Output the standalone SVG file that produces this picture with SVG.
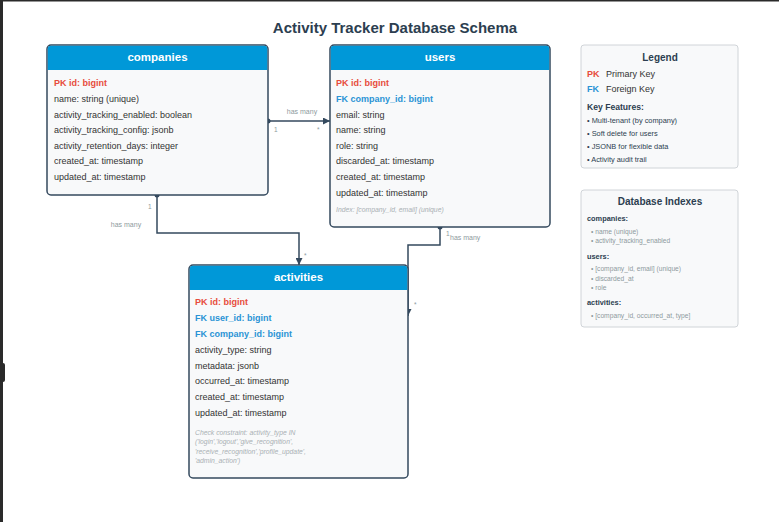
<svg xmlns="http://www.w3.org/2000/svg" width="779" height="522" viewBox="0 0 779 522">
<style>
text{font-family:"Liberation Sans",Arial,sans-serif;}
.title{font-size:15px;font-weight:bold;fill:#2c3e50;text-anchor:middle;}
.box{fill:#f8f9fa;stroke:#34495e;stroke-width:1.5;}
.hdr{fill:#0098d8;}
.htxt{font-size:11.5px;font-weight:bold;fill:#ffffff;text-anchor:middle;}
.row{font-size:9px;fill:#333333;}
.pk{font-size:9px;font-weight:bold;fill:#e74c3c;}
.fk{font-size:9px;font-weight:bold;fill:#2a93d5;}
.note{font-size:6.8px;font-style:italic;fill:#a9b0b4;}
.conn{fill:none;stroke:#34495e;stroke-width:1.5;}
.dot{fill:#34495e;}
.lbl{font-size:7px;fill:#8e9a9e;}
.card{font-size:6.5px;fill:#8e9a9e;}
.pbox{fill:#f8f9fa;stroke:#d0d4d8;stroke-width:1;}
.ptitle{font-size:10px;font-weight:bold;fill:#2c3e50;text-anchor:middle;}
.lk{font-size:9px;font-weight:bold;}
.ltxt{font-size:9px;fill:#333333;}
.sub{font-size:8.6px;font-weight:bold;fill:#2c3e50;}
.bul{font-size:7.4px;fill:#2c3e50;}
.isub{font-size:7.4px;font-weight:bold;fill:#2c3e50;}
.ibul{font-size:6.7px;fill:#8e9a9e;}
</style>
<defs>
<marker id="arr" viewBox="0 0 10 10" refX="10" refY="5" markerWidth="7" markerHeight="7" markerUnits="userSpaceOnUse" orient="auto">
<path d="M0,0 L10,5 L0,10 z" fill="#34495e"/>
</marker>
</defs>
<rect x="0" y="0" width="779" height="522" fill="#ffffff"/>
<rect x="0" y="0" width="779" height="1.5" fill="#2a2a2a"/>
<rect x="0" y="0" width="3" height="522" fill="#2a2a2a"/>
<rect x="0" y="363" width="5" height="19" rx="2" fill="#2a2a2a"/>

<text class="title" x="395" y="33">Activity Tracker Database Schema</text>

<g id="connectors">
<path class="conn" d="M268,121 L330,121" marker-end="url(#arr)"/>
<circle class="dot" cx="268" cy="121" r="2.5"/>
<text class="lbl" x="302" y="114" text-anchor="middle">has many</text>
<text class="card" x="274" y="132">1</text>
<text class="card" x="317" y="132">*</text>

<path class="conn" d="M157,195 L157,233 L299,233 L299,265" marker-end="url(#arr)"/>
<circle class="dot" cx="157" cy="195" r="2.5"/>
<text class="card" x="148" y="209">1</text>
<text class="lbl" x="126" y="227" text-anchor="middle">has many</text>
<text class="card" x="304" y="258">*</text>

<path class="conn" d="M440,227 L440,245 L408,245 L408,316" marker-end="url(#arr)"/>
<circle class="dot" cx="440" cy="227" r="2.5"/>
<text class="card" x="446" y="236">1</text>
<text class="lbl" x="450" y="240">has many</text>
<text class="card" x="414" y="307">*</text>
</g>

<g id="companies">
<rect class="box" x="47" y="45" width="221" height="150" rx="4"/>
<path class="hdr" d="M51,45.75 H264 A3.25,3.25 0 0 1 267.25,49 V70 H47.75 V49 A3.25,3.25 0 0 1 51,45.75 z"/>
<text class="htxt" x="157.5" y="61">companies</text>
<text class="pk" x="54" y="86">PK id: bigint</text>
<text class="row" x="54" y="102">name: string (unique)</text>
<text class="row" x="54" y="118">activity_tracking_enabled: boolean</text>
<text class="row" x="54" y="133">activity_tracking_config: jsonb</text>
<text class="row" x="54" y="149">activity_retention_days: integer</text>
<text class="row" x="54" y="164">created_at: timestamp</text>
<text class="row" x="54" y="180">updated_at: timestamp</text>
</g>

<g id="users">
<rect class="box" x="330" y="45" width="220" height="182" rx="4"/>
<path class="hdr" d="M334,45.75 H546 A3.25,3.25 0 0 1 549.25,49 V70 H330.75 V49 A3.25,3.25 0 0 1 334,45.75 z"/>
<text class="htxt" x="440" y="61">users</text>
<text class="pk" x="336" y="86">PK id: bigint</text>
<text class="fk" x="336" y="102">FK company_id: bigint</text>
<text class="row" x="336" y="118">email: string</text>
<text class="row" x="336" y="133">name: string</text>
<text class="row" x="336" y="149">role: string</text>
<text class="row" x="336" y="164">discarded_at: timestamp</text>
<text class="row" x="336" y="180">created_at: timestamp</text>
<text class="row" x="336" y="196">updated_at: timestamp</text>
<text class="note" x="336" y="212">Index: [company_id, email] (unique)</text>
</g>

<g id="activities">
<rect class="box" x="189" y="265" width="219" height="213" rx="4"/>
<path class="hdr" d="M193,265.75 H404 A3.25,3.25 0 0 1 407.25,269 V290 H189.75 V269 A3.25,3.25 0 0 1 193,265.75 z"/>
<text class="htxt" x="298.5" y="281">activities</text>
<text class="pk" x="195" y="305">PK id: bigint</text>
<text class="fk" x="195" y="321">FK user_id: bigint</text>
<text class="fk" x="195" y="337">FK company_id: bigint</text>
<text class="row" x="195" y="353">activity_type: string</text>
<text class="row" x="195" y="369">metadata: jsonb</text>
<text class="row" x="195" y="384">occurred_at: timestamp</text>
<text class="row" x="195" y="400">created_at: timestamp</text>
<text class="row" x="195" y="416">updated_at: timestamp</text>
<text class="note" x="195" y="435">Check constraint: activity_type IN</text>
<text class="note" x="195" y="444">('login','logout','give_recognition',</text>
<text class="note" x="195" y="454">'receive_recognition','profile_update',</text>
<text class="note" x="195" y="463">'admin_action')</text>
</g>

<g id="legend">
<rect class="pbox" x="581" y="45" width="157" height="123" rx="3"/>
<text class="ptitle" x="660" y="61">Legend</text>
<text class="lk" x="587" y="77" fill="#e74c3c">PK</text>
<text class="ltxt" x="606" y="77">Primary Key</text>
<text class="lk" x="587" y="92" fill="#2a93d5">FK</text>
<text class="ltxt" x="606" y="92">Foreign Key</text>
<text class="sub" x="587" y="110">Key Features:</text>
<text class="bul" x="587" y="123">• Multi-tenant (by company)</text>
<text class="bul" x="587" y="136">• Soft delete for users</text>
<text class="bul" x="587" y="149">• JSONB for flexible data</text>
<text class="bul" x="587" y="162">• Activity audit trail</text>
</g>

<g id="indexes">
<rect class="pbox" x="581" y="190" width="157" height="137" rx="3"/>
<text class="ptitle" x="660" y="205">Database Indexes</text>
<text class="isub" x="587" y="221">companies:</text>
<text class="ibul" x="591" y="234">• name (unique)</text>
<text class="ibul" x="591" y="243">• activity_tracking_enabled</text>
<text class="isub" x="587" y="259">users:</text>
<text class="ibul" x="591" y="271">• [company_id, email] (unique)</text>
<text class="ibul" x="591" y="281">• discarded_at</text>
<text class="ibul" x="591" y="290">• role</text>
<text class="isub" x="587" y="305">activities:</text>
<text class="ibul" x="591" y="318">• [company_id, occurred_at, type]</text>
</g>
</svg>
